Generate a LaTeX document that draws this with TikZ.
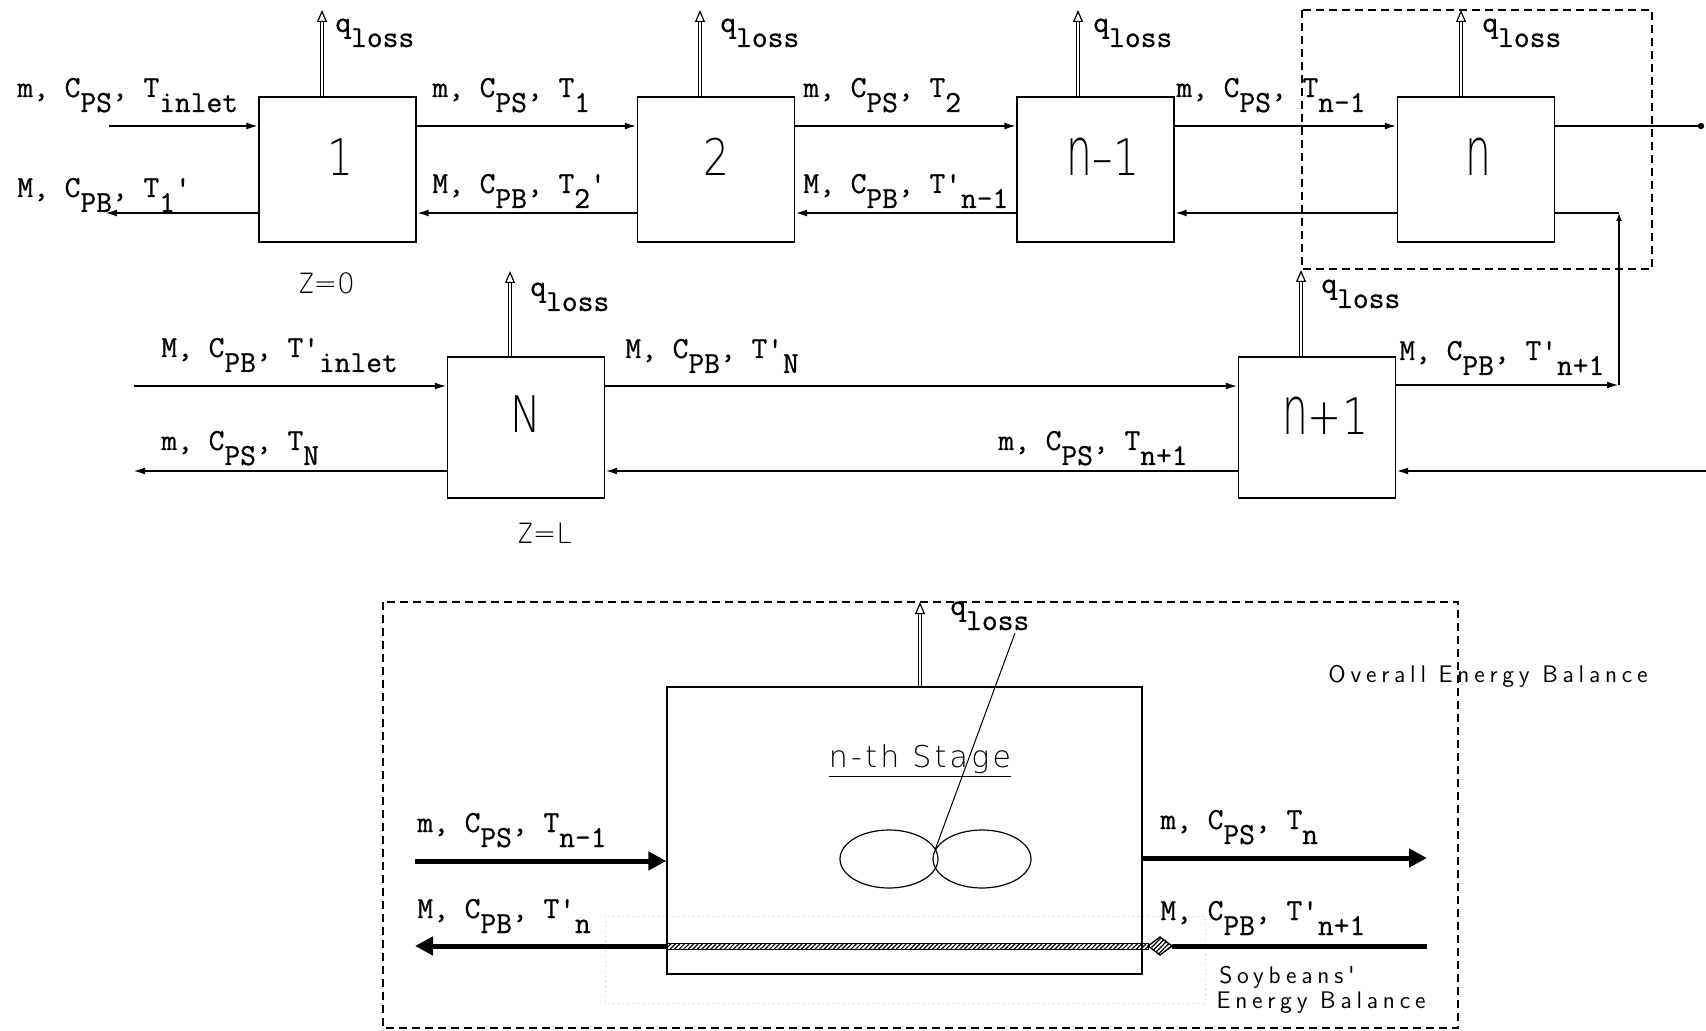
\documentclass[tikz,border=0pt]{standalone}
\usepackage{fontspec}
\usepackage{graphicx}
\usetikzlibrary{arrows.meta,shapes.geometric,patterns.meta,calc}
\newfontfamily\thin{DejaVu Sans ExtraLight}
\newfontfamily\lthin[LetterSpace=11]{DejaVu Sans ExtraLight}
\newfontfamily\wsans[LetterSpace=20]{Latin Modern Sans}
\newfontfamily\monob[FakeBold=0.7]{Latin Modern Mono}
\newcommand{\lowr}[1]{\raisebox{-7.5pt}{#1}}
\newcommand{\archn}{\scalebox{1}[1.33]{n}}
\newcommand{\boxt}[1]{\scalebox{0.85}[1.05]{#1}}
\newcommand{\tallz}{\scalebox{1}[1.33]{z}}
\newcommand{\pr}{\textquotesingle}
\tikzset{
  box/.style={draw, line width=0.7pt, minimum width=78.5pt, minimum height=72.5pt, inner sep=0pt},
  lab/.style={font=\fontsize{15.3}{17}\selectfont\monob, inner sep=0pt, anchor=base west},
  num/.style={font=\fontsize{24}{28}\selectfont\thin, inner sep=0pt},
  zlab/.style={font=\fontsize{14}{16}\selectfont\thin, inner sep=0pt},
  note/.style={font=\fontsize{12}{14}\selectfont\wsans, inner sep=0pt},
  flow/.style={line width=1pt, -{Latex[length=6pt,width=3.5pt]}},
  plain/.style={line width=1pt},
  qarrow/.style={double, double distance=1pt, line width=0.6pt, -{Triangle[open,length=6pt,width=5pt]}},
  dashbox/.style={line width=0.7pt, dash pattern=on 4pt off 2.5pt},
  tflow/.style={line width=2.5pt, -{Triangle[length=9pt,width=9pt]}},
  hatch/.style={pattern={Lines[angle=45,distance=1.6pt,line width=0.6pt]}},
}
\begin{document}
\begin{tikzpicture}[x=0.5pt,y=-0.5pt]
\useasboundingbox (0,0) rectangle (1706,1031);

% ---------- top row boxes ----------
\node[box] (b1) at (337.5,169.5) {};
\node[box] (b2) at (716,169.5) {};
\node[box] (b3) at (1095.5,169.5) {};
\node[box] (b4) at (1476,169.5) {};
\node[num] (t1) at (340,157) {\boxt{1}};
\node[num] (t2) at (716,157) {\boxt{2}};
\node[num] (t3) at (1103,157) {\boxt{\archn–1}};
\node[num] (t4) at (1478,157) {\boxt{\archn}};

% ---------- lower row boxes ----------
\node[box, minimum height=70.5pt] (bN) at (526,427.5) {};
\node[box, minimum height=70.5pt] (bn1) at (1317,427.5) {};
\node[num] (tN) at (526,414) {\boxt{N}};
\node[num] (tn1) at (1325,416) {\boxt{\archn+1}};

% ---------- top row flows ----------
\coordinate (inS) at (109,126);
\coordinate (outB) at (105,213);
\coordinate (edgeT) at (1701,126);
\coordinate (cr1) at (1619,213);
\coordinate (cr2) at (1619,385);
\draw[flow] (inS) -- (inS -| b1.west);
\draw[flow] (b1.east |- inS) -- (b2.west |- inS);
\draw[flow] (b2.east |- inS) -- (b3.west |- inS);
\draw[flow] (b3.east |- inS) -- (b4.west |- inS);
\draw[plain] (b4.east |- edgeT) -- (edgeT);
\fill (edgeT) circle (1.6pt);
\draw[flow] (b1.west |- outB) -- (outB);
\draw[flow] (b2.west |- outB) -- (b1.east |- outB);
\draw[flow] (b3.west |- outB) -- (b2.east |- outB);
\draw[flow] (b4.west |- outB) -- (b3.east |- outB);
\draw[plain] (cr1) -- (b4.east |- cr1);
\draw[flow] (bn1.east |- cr2) -- (cr2);
\draw[line width=1pt, -{Latex[length=4pt,width=3pt]}] (cr2) -- (cr1);

% ---------- lower row flows ----------
\coordinate (inL) at (134,386);
\coordinate (outL) at (133,471);
\coordinate (edgeL) at (1706,471);
\draw[flow] (inL) -- (inL -| bN.west);
\draw[flow] (bN.east |- inL) -- (bn1.west |- inL);
\draw[flow] (bN.west |- outL) -- (outL);
\draw[flow] (bn1.west |- outL) -- (bN.east |- outL);
\draw[flow] (edgeL) -- (bn1.east |- edgeL);

% ---------- heat loss arrows ----------
\coordinate (q1) at (322,10);
\coordinate (q2) at (700,10);
\coordinate (q3) at (1078,10);
\coordinate (q4) at (1461,10);
\coordinate (qN) at (510,271);
\coordinate (qn1) at (1301,270);
\draw[qarrow] (b1.north -| q1) -- (q1);
\draw[qarrow] (b2.north -| q2) -- (q2);
\draw[qarrow] (b3.north -| q3) -- (q3);
\draw[qarrow] (b4.north -| q4) -- (q4);
\draw[qarrow] (bN.north -| qN) -- (qN);
\draw[qarrow] (bn1.north -| qn1) -- (qn1);
\node[lab] (ql1) at (335,32) {q\lowr{loss}};
\node[lab] (ql2) at (720,32) {q\lowr{loss}};
\node[lab] (ql3) at (1093,32) {q\lowr{loss}};
\node[lab] (ql4) at (1482,32) {q\lowr{loss}};
\node[lab] (qlN) at (530,296) {q\lowr{loss}};
\node[lab] (qln1) at (1321,293) {q\lowr{loss}};

% ---------- dashed box around stage n ----------
\draw[dashbox] (1302,10) rectangle (1652,269);

% ---------- flow labels ----------
\node[lab] (l1) at (17,97) {m, C\lowr{PS}, T\lowr{inlet}};
\node[lab] (l2) at (17,197) {M, C\lowr{PB}, T\lowr{1}\pr};
\node[lab] (l3) at (432,97) {m, C\lowr{PS}, T\lowr{1}};
\node[lab] (l4) at (432,193) {M, C\lowr{PB}, T\lowr{2}\pr};
\node[lab] (l5) at (803,97) {m, C\lowr{PS}, T\lowr{2}};
\node[lab] (l6) at (803,193) {M, C\lowr{PB}, T\pr\lowr{n-1}};
\node[lab] (l7) at (1176,97) {m, C\lowr{PS}, T\lowr{n-1}};
\node[lab] (l8) at (161,357) {M, C\lowr{PB}, T\pr\lowr{inlet}};
\node[lab] (l9) at (161,450) {m, C\lowr{PS}, T\lowr{N}};
\node[lab] (l10) at (625,358) {M, C\lowr{PB}, T\pr\lowr{N}};
\node[lab] (l11) at (998,450) {m, C\lowr{PS}, T\lowr{n+1}};
\node[lab] (l12) at (1399,360) {M, C\lowr{PB}, T\pr\lowr{n+1}};

\node[zlab] (z0) at (327,283) {\tallz=0};
\node[zlab] (zL) at (545,533) {\tallz=L};

% ---------- bottom panel ----------
\draw[dashbox] (383,602) rectangle (1458,1028);
\draw[gray!45, dotted, line width=0.5pt] (605,916) rectangle (1205,1003);
\node[draw, line width=0.7pt, minimum width=237.5pt, minimum height=143.5pt, inner sep=0pt] (stage) at (904.5,830.5) {};
\node[font=\fontsize{15}{18}\selectfont\lthin, inner sep=0pt, anchor=base] (stt) at (920,767) {\underline{n-th Stage}};
\node[ellipse, draw, line width=0.6pt, minimum width=49pt, minimum height=29pt, inner sep=0pt] (e1) at (889,859) {};
\node[ellipse, draw, line width=0.6pt, minimum width=49pt, minimum height=29pt, inner sep=0pt] (e2) at (982,859) {};

\coordinate (qS) at (920,602);
\draw[qarrow] (stage.north -| qS) -- (qS);
\node[lab] (qlS) at (950,615) {q\lowr{loss}};
\coordinate (ptrA) at (1015,633);
\coordinate (ptrB) at (935,850);
\draw[line width=0.5pt] (ptrA) -- (ptrB);

\coordinate (Lin) at (415,861);
\coordinate (Rout) at (1427,858);
\coordinate (Lout) at (415,946);
\coordinate (Rin) at (1427,946);
\coordinate (dmdW) at (1148,946);
\coordinate (dmdE) at (1172,946);
\coordinate (dmdN) at (1160,937);
\coordinate (dmdS) at (1160,955);
\draw[tflow] (Lin) -- (Lin -| stage.west);
\draw[tflow] (stage.east |- Rout) -- (Rout);
\draw[line width=2.5pt] (Rin) -- (dmdE);
\draw[line width=0.5pt, hatch] (stage.west |- 0,943) rectangle (dmdW |- 0,949);
\draw[line width=0.7pt, hatch] (dmdW) -- (dmdN) -- (dmdE) -- (dmdS) -- cycle;
\draw[tflow] (stage.west |- Lout) -- (Lout);

\node[lab] (b1l) at (417,832) {m, C\lowr{PS}, T\lowr{n-1}};
\node[lab] (b2l) at (417,918) {M, C\lowr{PB}, T\pr\lowr{n}};
\node[lab] (b3l) at (1160,829) {m, C\lowr{PS}, T\lowr{n}};
\node[lab] (b4l) at (1160,920) {M, C\lowr{PB}, T\pr\lowr{n+1}};

\node[note] (oeb) at (1488,676) {Overall Energy Balance};
\node[note] (sb1) at (1287,977) {Soybeans'};
\node[note] (sb2) at (1321,1003) {Energy Balance};
\end{tikzpicture}
\end{document}
